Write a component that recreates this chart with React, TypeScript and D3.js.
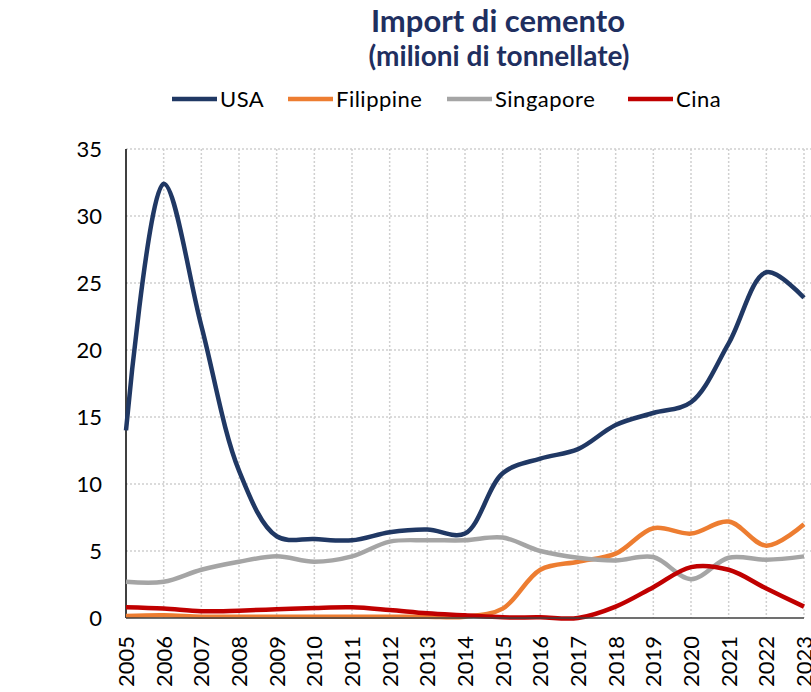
import React, { useEffect, useRef } from "react";
import * as d3 from "d3";

const years = [
  "2005", "2006", "2007", "2008", "2009", "2010", "2011", "2012", "2013", "2014",
  "2015", "2016", "2017", "2018", "2019", "2020", "2021", "2022", "2023",
];
const usa = [14, 32.4, 21.8, 11, 6.1, 5.9, 5.8, 6.4, 6.6, 6.3, 10.8, 11.9, 12.6, 14.4, 15.3, 16.1, 20.5, 25.8, 23.9];
const filippine = [0.15, 0.2, 0.1, 0.1, 0.1, 0.1, 0.1, 0.1, 0.1, 0.1, 0.7, 3.6, 4.2, 4.8, 6.7, 6.3, 7.2, 5.4, 7.0];
const singapore = [2.7, 2.7, 3.6, 4.2, 4.6, 4.2, 4.6, 5.7, 5.8, 5.8, 6.0, 5.0, 4.5, 4.3, 4.55, 2.9, 4.5, 4.35, 4.6];
const cina = [0.8, 0.7, 0.5, 0.55, 0.65, 0.75, 0.8, 0.6, 0.35, 0.2, 0.05, 0.05, 0.0, 0.85, 2.3, 3.8, 3.6, 2.2, 0.85];
const yTicks = [0, 5, 10, 15, 20, 25, 30, 35];

const seriesNames = ["USA", "Filippine", "Singapore", "Cina"];
const seriesColors = ["#203864", "#ED7D31", "#A5A5A5", "#C00000"];
const seriesValues = [usa, filippine, singapore, cina];

const W = 811;
const H = 692;
const font = "Lato, 'Open Sans', sans-serif";

const App = () => {
  const ref = useRef<SVGSVGElement>(null);

  useEffect(() => {
    const svg = d3.select(ref.current);
    svg.selectAll("*").remove();

    const x = d3.scalePoint<string>().domain(years).range([126, 804]);
    const y = d3.scaleLinear().domain([0, 35]).range([618, 149]);

    // title
    svg.append("text")
      .attr("x", 498).attr("y", 32)
      .attr("text-anchor", "middle")
      .attr("font-family", font).attr("font-weight", "bold")
      .attr("font-size", 31).attr("fill", "#1F2F60")
      .text("Import di cemento");
    svg.append("text")
      .attr("x", 499).attr("y", 66)
      .attr("text-anchor", "middle")
      .attr("font-family", font).attr("font-weight", "bold")
      .attr("font-size", 28).attr("fill", "#1F2F60")
      .text("(milioni di tonnellate)");

    // legend
    const legendX = [172, 288, 447, 628];
    const lg = svg.append("g");
    seriesNames.forEach((name, i) => {
      lg.append("line")
        .attr("x1", legendX[i]).attr("x2", legendX[i] + 45)
        .attr("y1", 99).attr("y2", 99)
        .attr("stroke", seriesColors[i]).attr("stroke-width", 4.5);
      lg.append("text")
        .attr("x", legendX[i] + 48).attr("y", 107)
        .attr("font-family", font).attr("font-size", 22)
        .attr("letter-spacing", 0.5)
        .attr("fill", "#000")
        .text(name);
    });

    // grid
    const grid = svg.append("g");
    grid.selectAll(".hg")
      .data(yTicks.filter((d) => d > 0))
      .join("line")
      .attr("x1", 126).attr("x2", 811)
      .attr("y1", (d) => y(d)).attr("y2", (d) => y(d))
      .attr("stroke", "#D0D0D0").attr("stroke-width", 1.5)
      .attr("stroke-dasharray", "2,2");
    grid.selectAll(".vg")
      .data(years.slice(1))
      .join("line")
      .attr("x1", (d) => x(d)!).attr("x2", (d) => x(d)!)
      .attr("y1", y(35)).attr("y2", y(0))
      .attr("stroke", "#D0D0D0").attr("stroke-width", 1.5)
      .attr("stroke-dasharray", "2,2");

    // y axis
    svg.append("line")
      .attr("x1", 126).attr("x2", 126)
      .attr("y1", y(35)).attr("y2", y(0))
      .attr("stroke", "#000").attr("stroke-width", 1.5);
    svg.append("g")
      .selectAll("text")
      .data(yTicks)
      .join("text")
      .attr("x", 102).attr("y", (d) => y(d) + 8)
      .attr("text-anchor", "end")
      .attr("font-family", font).attr("font-size", 22)
      .attr("fill", "#000")
      .text((d) => d);

    // x labels
    svg.append("g")
      .selectAll("text")
      .data(years)
      .join("text")
      .attr("transform", (d) => `translate(${x(d)! + 8},636) rotate(-90)`)
      .attr("text-anchor", "end")
      .attr("font-family", font).attr("font-size", 22)
      .attr("fill", "#000")
      .text((d) => d);

    // lines
    const line = d3.line<number>()
      .x((_, i) => x(years[i])!)
      .y((d) => y(d))
      .curve(d3.curveCatmullRom.alpha(0.5));

    seriesValues.forEach((vals, i) => {
      svg.append("path")
        .datum(vals)
        .attr("d", line)
        .attr("fill", "none")
        .attr("stroke", seriesColors[i])
        .attr("stroke-width", 4.5)
        .attr("stroke-linejoin", "round");
    });

    // x axis baseline
    svg.append("line")
      .attr("x1", 126).attr("x2", 804)
      .attr("y1", y(0)).attr("y2", y(0))
      .attr("stroke", "#404040").attr("stroke-width", 1.5);
  }, []);

  return (
    <svg
      ref={ref}
      width={W}
      height={H}
      style={{ position: "absolute", left: 0, top: 0, background: "#fff" }}
    />
  );
};

export default App;
